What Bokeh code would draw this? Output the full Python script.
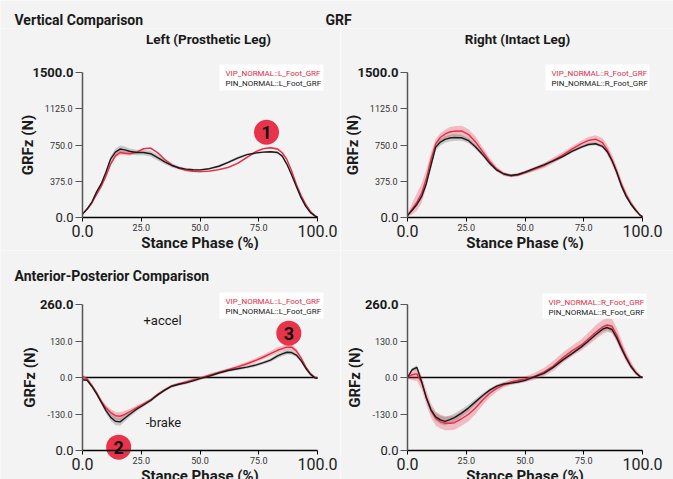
from bokeh.plotting import figure
from bokeh.layouts import column, row
from bokeh.models import Label, FixedTicker, BoxAnnotation, Range1d
from bokeh.core.properties import value
from bokeh.embed import file_html
from bokeh.resources import INLINE
import numpy as np

# ---------------------------------------------------------------- data
stance_pct = [0, 2, 4, 6, 8, 10, 12, 14, 16, 18, 20, 23, 26, 29, 32, 35, 38, 41, 44, 47,
              50, 54, 58, 62, 66, 70, 74, 77, 80, 83, 85, 87, 89, 91, 93, 95, 97, 99, 100]

# vertical GRF, left (prosthetic) leg
vip_l_vert = [35, 85, 150, 240, 325, 430, 555, 638, 672, 665, 660, 675, 712, 718, 670, 600, 545, 508, 488, 478,
              475, 480, 495, 518, 560, 622, 685, 712, 721, 708, 670, 598, 480, 345, 230, 135, 62, 17, 5]
pin_l_vert = [35, 90, 160, 265, 350, 470, 607, 676, 708, 700, 685, 672, 672, 660, 620, 575, 538, 515, 500, 494,
              493, 505, 530, 570, 615, 650, 668, 676, 680, 672, 635, 550, 440, 320, 205, 115, 50, 14, 5]
vip_l_vert_sd = [5, 8, 10, 10, 12, 15, 18, 22, 25, 22, 18, 12, 10, 10, 10, 10, 10, 10, 10, 10,
                 10, 10, 10, 10, 10, 10, 10, 10, 10, 10, 10, 10, 10, 8, 8, 6, 5, 3, 2]
pin_l_vert_sd = [5, 8, 10, 12, 15, 20, 28, 35, 38, 35, 30, 28, 28, 30, 30, 25, 20, 15, 12, 10,
                 10, 10, 12, 15, 15, 12, 10, 10, 10, 12, 12, 12, 10, 10, 8, 6, 5, 3, 2]

# vertical GRF, right (intact) leg
vip_r_vert = [20, 90, 160, 250, 400, 600, 762, 830, 862, 885, 893, 895, 858, 780, 680, 580, 500, 450, 432, 440,
              463, 498, 535, 590, 645, 707, 765, 798, 810, 775, 700, 600, 480, 345, 238, 150, 85, 25, 8]
pin_r_vert = [20, 75, 135, 215, 350, 540, 728, 780, 808, 822, 828, 825, 795, 730, 650, 560, 490, 450, 435, 445,
              470, 508, 545, 585, 630, 683, 728, 755, 763, 735, 680, 590, 470, 330, 220, 140, 75, 22, 8]
vip_r_vert_sd = [10, 60, 90, 100, 90, 70, 50, 45, 45, 50, 50, 55, 55, 55, 45, 35, 25, 20, 15, 15,
                 15, 20, 25, 30, 30, 30, 30, 35, 40, 45, 50, 55, 50, 45, 35, 25, 15, 8, 5]
pin_r_vert_sd = [5, 10, 15, 20, 25, 30, 35, 35, 35, 35, 35, 30, 28, 25, 20, 18, 15, 15, 15, 15,
                 15, 15, 15, 15, 15, 15, 15, 15, 15, 15, 15, 15, 15, 12, 10, 8, 6, 4, 2]

# anterior-posterior GRF, left leg
vip_l_ap = [3, -5, -28, -54, -85, -108, -125, -136, -138, -131, -122, -108, -94, -80, -60, -44, -30, -23, -16, -9,
            -2, 8, 18, 28, 38, 49, 62, 73, 85, 97, 103, 108, 108, 95, 70, 38, 14, 0, -2]
pin_l_ap = [-8, -10, -32, -58, -88, -118, -142, -156, -158, -145, -132, -113, -98, -82, -62, -45, -31, -24, -19, -12,
            -4, 5, 16, 25, 31, 37, 45, 53, 62, 77, 84, 90, 89, 80, 60, 33, 11, -2, -3]
vip_l_ap_sd = [8, 5, 5, 6, 8, 10, 12, 14, 14, 12, 10, 8, 6, 5, 5, 5, 5, 5, 5, 5,
               5, 5, 5, 5, 6, 7, 8, 8, 9, 10, 10, 10, 10, 8, 6, 5, 4, 3, 2]
pin_l_ap_sd = [4, 4, 5, 6, 8, 10, 12, 14, 14, 12, 10, 8, 6, 6, 6, 6, 5, 5, 5, 5,
               5, 5, 5, 5, 5, 5, 6, 6, 7, 8, 8, 8, 8, 7, 6, 5, 4, 3, 2]

# anterior-posterior GRF, right leg
vip_r_ap = [0, 10, 13, -18, -70, -118, -146, -157, -163, -163, -161, -147, -131, -108, -80, -56, -39, -26, -16, -10,
            -6, 4, 19, 41, 70, 95, 116, 138, 160, 180, 187, 183, 152, 112, 75, 44, 20, 4, 0]
pin_r_ap = [0, 28, 36, -14, -72, -115, -140, -151, -156, -150, -143, -127, -108, -86, -64, -45, -31, -23, -20, -16,
            -10, 2, 15, 36, 62, 85, 109, 130, 152, 172, 178, 171, 142, 104, 70, 40, 18, 3, 0]
vip_r_ap_sd = [5, 20, 25, 25, 25, 25, 25, 25, 25, 25, 25, 25, 25, 22, 18, 15, 12, 10, 10, 10,
               10, 12, 15, 18, 18, 18, 20, 22, 25, 25, 25, 25, 25, 22, 18, 14, 10, 6, 3]
pin_r_ap_sd = [3, 6, 8, 8, 10, 12, 14, 15, 15, 15, 15, 14, 12, 10, 8, 7, 6, 6, 6, 6,
               6, 6, 6, 6, 6, 6, 6, 7, 8, 10, 10, 10, 10, 8, 7, 6, 5, 3, 2]

x_ticks = [0, 25, 50, 75, 100]
x_tick_labels = ["0.0", "25.0", "50.0", "75.0", "100.0"]
vert_ticks = [0, 375, 750, 1125, 1500]
vert_tick_labels = ["0.0", "375.0", "750.0", "1125.0", "1500.0"]
ap_ticks = [-260, -130, 0, 130, 260]
ap_tick_labels = ["0.0", "-130.0", "0.0", "130.0", "260.0"]

# numbered call-outs: (panel, label, stance %, force)
badges = [("vl", "1", 78.3, 882), ("al", "2", 15.4, -248), ("al", "3", 87.8, 158)]

# ---------------------------------------------------------------- style
BG = "#f2f3f2"
RED = "#ee2a45"
BADGE = "#e8334a"
INK = "#1a1a1a"
FONT = "Roboto"


def to_data(geom, px, py):
    """Canvas pixel position of a panel -> data coordinates of that panel."""
    (l, r, t, b), (x0, x1), (y0, y1) = geom
    return (x0 + (px - l) / (r - l) * (x1 - x0),
            y1 - (py - t) / (b - t) * (y1 - y0))


def panel(width, height, plot_box, y_ticks, y_labels, left_tag, right_tag, legend_box):
    """The frame fills the whole canvas; the axes are pinned to the plotting box
    inside it so that every title and note around the box stays visible."""
    l, r, t, b = plot_box
    y_lim = (y_ticks[0], y_ticks[-1])
    x_lim = (x_ticks[0], x_ticks[-1])
    geom = (plot_box, x_lim, y_lim)
    xs, ye = to_data(geom, 0, 0)
    xe, ys = to_data(geom, width, height)

    p = figure(width=width, height=height, x_range=Range1d(xs, xe), y_range=Range1d(ys, ye),
               min_border=0, output_backend="svg", toolbar_location=None,
               background_fill_color=BG, border_fill_color=BG, outline_line_color=None)
    p.grid.visible = False

    xa = p.xaxis[0]
    xa.fixed_location = y_lim[0]
    xa.bounds = x_lim
    xa.ticker = FixedTicker(ticks=x_ticks)
    xa.major_label_overrides = {v: (s if 0 < i < len(x_ticks) - 1 else "")
                                for i, (v, s) in enumerate(zip(x_ticks, x_tick_labels))}
    xa.major_label_text_font = FONT
    xa.major_label_text_font_size = "9px"
    xa.major_label_text_color = "#333333"
    xa.major_label_standoff = 2
    xa.minor_tick_line_color = None
    xa.major_tick_out = 4
    xa.major_tick_in = 0
    xa.axis_line_color = "black"
    xa.major_tick_line_color = "black"
    xa.axis_line_width = 1.3
    xa.axis_label = "Stance Phase (%)"
    xa.axis_label_text_font = FONT
    xa.axis_label_text_font_size = "15px"
    xa.axis_label_text_font_style = "bold"
    xa.axis_label_text_color = INK
    xa.axis_label_standoff = 0

    ya = p.yaxis[0]
    ya.fixed_location = x_lim[0]
    ya.bounds = y_lim
    ya.ticker = FixedTicker(ticks=y_ticks)
    ya.major_label_overrides = {v: (s if 0 < i < len(y_ticks) - 1 else "")
                                for i, (v, s) in enumerate(zip(y_ticks, y_labels))}
    ya.major_label_text_font = FONT
    ya.major_label_text_font_size = "9px"
    ya.major_label_text_color = "#333333"
    ya.major_label_standoff = 3
    ya.minor_tick_line_color = None
    ya.major_tick_out = 7
    ya.major_tick_in = 0
    ya.axis_line_color = "#555555"
    ya.major_tick_line_color = "#555555"
    ya.axis_line_width = 1.5
    ya.axis_label = "GRFz (N)"
    ya.axis_label_text_font = FONT
    ya.axis_label_text_font_size = "15px"
    ya.axis_label_text_font_style = "bold"
    ya.axis_label_text_color = INK
    ya.axis_label_standoff = 5

    # end tick labels, set larger than the inner ones
    for xv, s in ((x_ticks[0], x_tick_labels[0]), (x_ticks[-1], x_tick_labels[-1])):
        p.add_layout(Label(x=xv, y=y_lim[0], text=s, text_align="center", text_baseline="top",
                           y_offset=-7, text_font=FONT, text_font_size="16px", text_color="#222222"))
    p.add_layout(Label(x=x_lim[0], y=y_ticks[0], text=y_labels[0], text_align="right",
                       text_baseline="middle", x_offset=-9, text_font=FONT, text_font_size="13px",
                       text_color="#222222"))
    p.add_layout(Label(x=x_lim[0], y=y_ticks[-1], text=y_labels[-1], text_align="right",
                       text_baseline="middle", x_offset=-9, text_font=FONT, text_font_size="13px",
                       text_font_style="bold", text_color=INK))

    # legend box
    bl, br, bt, bb = legend_box
    x0, y0 = to_data(geom, bl, bb)
    x1, y1 = to_data(geom, br, bt)
    p.add_layout(BoxAnnotation(left=x0, right=x1, bottom=y0, top=y1, fill_color="white",
                               fill_alpha=1, line_color=None, level="overlay"))
    for k, (tag, col) in enumerate(((left_tag, RED), (right_tag, INK))):
        lx, ly = to_data(geom, bl + 6, bt + 8.5 + 10 * k)
        p.add_layout(Label(x=lx, y=ly, text=tag, text_baseline="middle", text_font=FONT,
                           text_font_size="8px", text_color=col, level="overlay"))
    return p, geom


def draw_series(p, vip, vip_sd, pin, pin_sd):
    x = np.array(stance_pct, dtype=float)
    vip, vip_sd = np.array(vip, float), np.array(vip_sd, float)
    pin, pin_sd = np.array(pin, float), np.array(pin_sd, float)
    p.varea(x=x, y1=vip - vip_sd, y2=vip + vip_sd, fill_color=RED, fill_alpha=0.28)
    p.varea(x=x, y1=pin - pin_sd, y2=pin + pin_sd, fill_color="#555555", fill_alpha=0.28)
    p.line(x, vip, line_color=RED, line_width=1.4)
    p.line(x, pin, line_color=INK, line_width=1.4)


def zero_line(p):
    p.line([x_ticks[0], x_ticks[-1]], [0, 0], line_color="black", line_width=1.3)


def text_at(p, geom, px, py, s, size, style="bold", align="left"):
    x, y = to_data(geom, px, py)
    p.add_layout(Label(x=x, y=y, text=s, text_align=align, text_baseline="middle", text_font=FONT,
                       text_font_size=size, text_font_style=style, text_color=INK))


def draw_badges(p, key):
    sel = [b for b in badges if b[0] == key]
    if not sel:
        return
    bx = [b[2] for b in sel]
    by = [b[3] for b in sel]
    bt = [b[1] for b in sel]
    p.scatter(bx, by, size=25, fill_color=BADGE, line_color=None)
    p.text(bx, by, text=bt, text_align="center", text_baseline="middle", text_font=value(FONT),
           text_font_size="18px", text_font_style="bold", text_color="#111111")


PAGE_W = 673
HEAD_H = 28
L_W, R_W = 340, 333
TOP_H, BOT_H = 222, 229

# heading strip across the page (pixel coordinates, y growing downward)
head = figure(width=PAGE_W, height=HEAD_H, x_range=Range1d(0, PAGE_W), y_range=Range1d(HEAD_H, 0),
              min_border=0, x_axis_type=None, y_axis_type=None, output_backend="svg",
              toolbar_location=None, background_fill_color=BG, border_fill_color=BG,
              outline_line_color=None)
head.grid.visible = False
for hx, htxt in ((14, "Vertical Comparison"), (325, "GRF")):
    head.add_layout(Label(x=hx, y=19, text=htxt, text_baseline="middle", text_font=FONT,
                          text_font_size="14px", text_font_style="bold", text_color=INK))

# vertical, left
vl, g_vl = panel(L_W, TOP_H, (82, 317, 44, 189), vert_ticks, vert_tick_labels,
                 "VIP_NORMAL::L_Foot_GRF", "PIN_NORMAL::L_Foot_GRF", (219, 323, 36, 62))
draw_series(vl, vip_l_vert, vip_l_vert_sd, pin_l_vert, pin_l_vert_sd)
draw_badges(vl, "vl")
text_at(vl, g_vl, 208, 10, "Left (Prosthetic Leg)", "13.5px", align="center")

# vertical, right
vr, g_vr = panel(R_W, TOP_H, (67, 302, 44, 189), vert_ticks, vert_tick_labels,
                 "VIP_NORMAL::R_Foot_GRF", "PIN_NORMAL::R_Foot_GRF", (205, 309, 36, 62))
draw_series(vr, vip_r_vert, vip_r_vert_sd, pin_r_vert, pin_r_vert_sd)
text_at(vr, g_vr, 177, 10, "Right (Intact Leg)", "13.5px", align="center")

# anterior-posterior, left
al, g_al = panel(L_W, BOT_H, (82, 317, 54, 200), ap_ticks, ap_tick_labels,
                 "VIP_NORMAL::L_Foot_GRF", "PIN_NORMAL::L_Foot_GRF", (219, 323, 42, 68))
zero_line(al)
draw_series(al, vip_l_ap, vip_l_ap_sd, pin_l_ap, pin_l_ap_sd)
draw_badges(al, "al")
text_at(al, g_al, 14, 25, "Anterior-Posterior Comparison", "14px")
text_at(al, g_al, 162, 70, "+accel", "13px", style="normal", align="center")
text_at(al, g_al, 163, 172, "-brake", "13px", style="normal", align="center")

# anterior-posterior, right
ar, g_ar = panel(R_W, BOT_H, (67, 302, 54, 200), ap_ticks, ap_tick_labels,
                 "VIP_NORMAL::R_Foot_GRF", "PIN_NORMAL::R_Foot_GRF", (202, 306, 43, 68))
zero_line(ar)
draw_series(ar, vip_r_ap, vip_r_ap_sd, pin_r_ap, pin_r_ap_sd)

layout = column(head, row(vl, vr), row(al, ar))
open("out.html", "w").write(file_html(layout, INLINE))
